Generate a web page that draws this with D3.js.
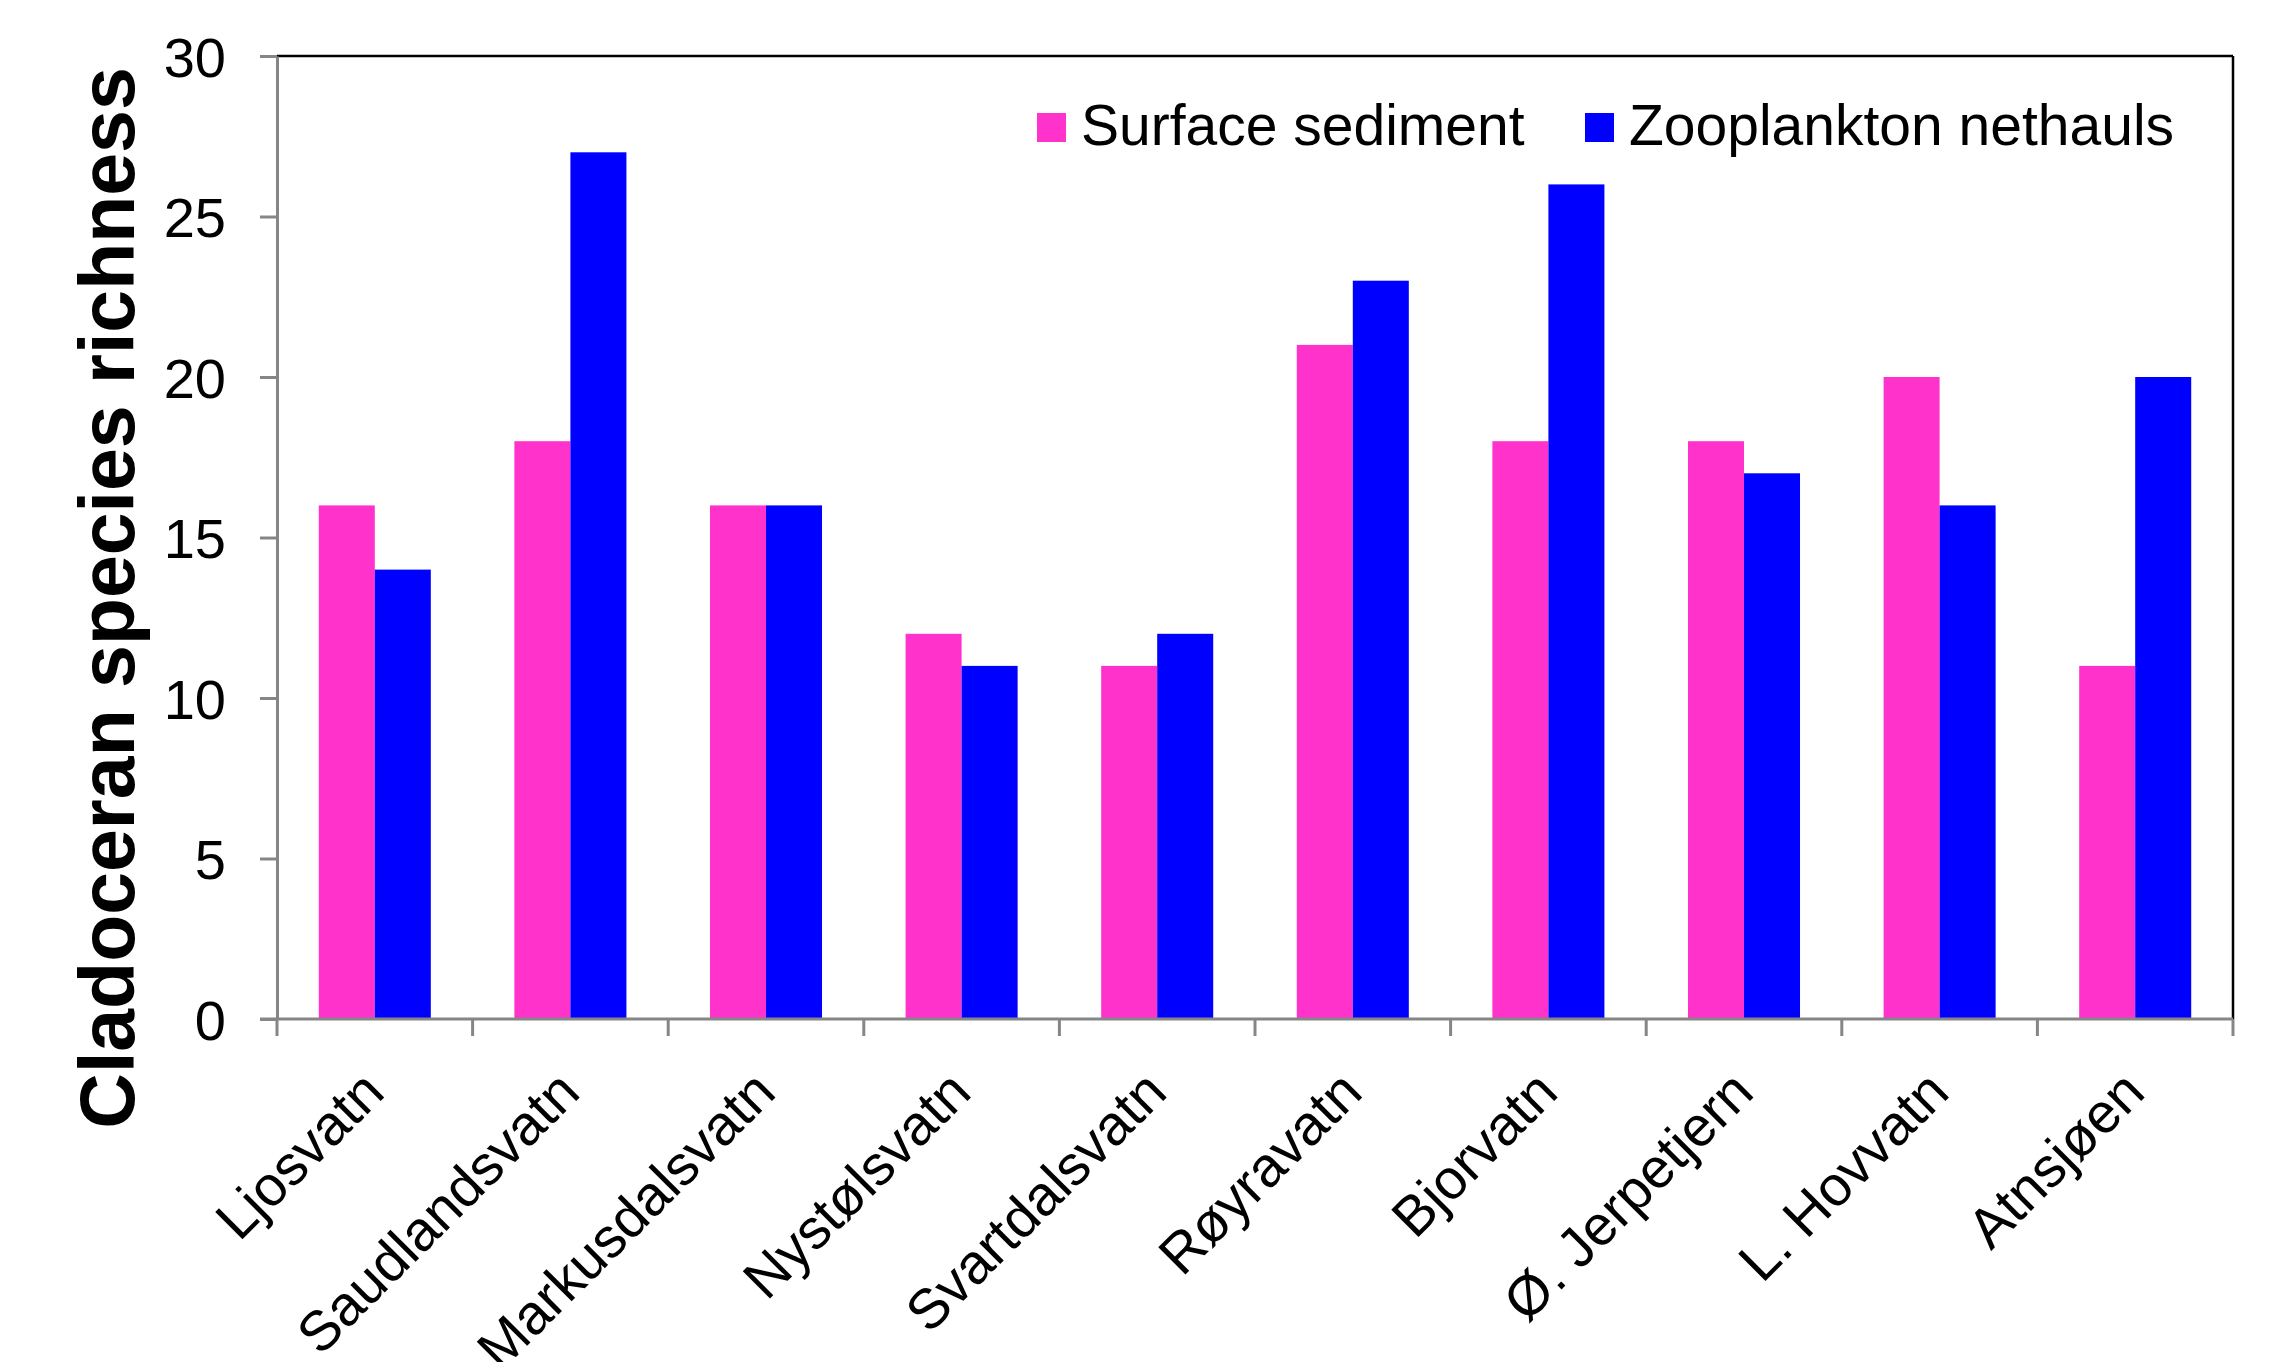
<!DOCTYPE html>
<html>
<head>
<meta charset="utf-8">
<script src="https://cdn.jsdelivr.net/npm/d3@7"></script>
<style>
  html, body { margin: 0; padding: 0; background: #ffffff; }
  svg { display: block; }
  text { font-family: "Liberation Sans", Arial, sans-serif; fill: #000; }
</style>
</head>
<body>
<svg id="chart" width="2278" height="1362"></svg>
<script>
// Lakes and species-richness counts per sampling method
const lakes = ["Ljosvatn", "Saudlandsvatn", "Markusdalsvatn", "Nystølsvatn", "Svartdalsvatn",
               "Røyravatn", "Bjorvatn", "Ø. Jerpetjern", "L. Hovvatn", "Atnsjøen"];
const surfaceSediment = [16, 18, 16, 12, 11, 21, 18, 18, 20, 11];
const zooplanktonNethauls = [14, 27, 16, 11, 12, 23, 26, 17, 16, 20];
const seriesNames = ["Surface sediment", "Zooplankton nethauls"];
const seriesColors = ["#ff33cc", "#0000ff"];
const yTicks = [0, 5, 10, 15, 20, 25, 30];

const svg = d3.select("#chart");
const plot = { left: 277, right: 2233, top: 56, bottom: 1019 };

const x = d3.scaleBand().domain(lakes).range([plot.left, plot.right]).paddingInner(0).paddingOuter(0);
const xInner = d3.scaleBand().domain(seriesNames).range([0, x.bandwidth()]).paddingInner(0).paddingOuter(0.746);
const y = d3.scaleLinear().domain([0, 30]).range([plot.bottom, plot.top]);

const rows = lakes.map((lake, i) => ({
  lake,
  values: [surfaceSediment[i], zooplanktonNethauls[i]]
}));

// Bars
const groups = svg.append("g").selectAll("g")
  .data(rows).join("g")
  .attr("transform", d => `translate(${x(d.lake)},0)`);
groups.selectAll("rect")
  .data(d => d.values.map((v, k) => ({ v, k })))
  .join("rect")
  .attr("x", d => xInner(seriesNames[d.k]))
  .attr("width", xInner.bandwidth())
  .attr("y", d => y(d.v))
  .attr("height", d => y(0) - y(d.v))
  .attr("fill", d => seriesColors[d.k]);

// Frame: top and right edges in black
svg.append("line").attr("x1", plot.left).attr("x2", plot.right)
  .attr("y1", plot.top).attr("y2", plot.top)
  .attr("stroke", "#000").attr("stroke-width", 2.5);
svg.append("line").attr("x1", plot.right).attr("x2", plot.right)
  .attr("y1", plot.top).attr("y2", plot.bottom)
  .attr("stroke", "#000").attr("stroke-width", 2.5);

// Y axis
const yAxis = svg.append("g")
  .attr("transform", `translate(${plot.left},0)`)
  .call(d3.axisLeft(y).tickValues(yTicks).tickSize(17).tickPadding(34).tickSizeOuter(0));
yAxis.select(".domain").attr("stroke", "#868686").attr("stroke-width", 3);
yAxis.selectAll(".tick line").attr("stroke", "#868686").attr("stroke-width", 3);
yAxis.selectAll(".tick text")
  .attr("font-size", 56).attr("font-family", "Liberation Sans, Arial, sans-serif")
  .attr("fill", "#000").attr("dy", "0.36em");

// X axis: ticks at category boundaries
const xAxisG = svg.append("g").attr("transform", `translate(0,${plot.bottom})`);
xAxisG.append("line").attr("x1", plot.left - 17).attr("x2", plot.right)
  .attr("stroke", "#868686").attr("stroke-width", 3);
const boundaries = lakes.map(l => x(l)).concat([x(lakes[lakes.length - 1]) + x.bandwidth()]);
xAxisG.selectAll("line.tick").data(boundaries).join("line")
  .attr("class", "tick")
  .attr("x1", d => d).attr("x2", d => d)
  .attr("y1", 0).attr("y2", 17)
  .attr("stroke", "#868686").attr("stroke-width", 3);

// Rotated category labels
svg.append("g").selectAll("text")
  .data(lakes).join("text")
  .attr("transform", d => `translate(${x(d) + x.bandwidth() / 2 + 12},${plot.bottom + 76}) rotate(-45)`)
  .attr("text-anchor", "end")
  .attr("font-size", 56)
  .text(d => d);

// Y axis title
svg.append("text")
  .attr("transform", `translate(134,${598}) rotate(-90)`)
  .attr("text-anchor", "middle")
  .attr("font-size", 77)
  .attr("font-weight", "bold")
  .text("Cladoceran species richness");

// Legend
const legendItems = [
  { name: seriesNames[0], color: seriesColors[0], x: 1037 },
  { name: seriesNames[1], color: seriesColors[1], x: 1585 }
];
const legend = svg.append("g").selectAll("g").data(legendItems).join("g")
  .attr("transform", d => `translate(${d.x},113)`);
legend.append("rect").attr("width", 29).attr("height", 29).attr("fill", d => d.color);
legend.append("text").attr("x", 44).attr("y", 32).attr("font-size", 57).text(d => d.name);
</script>
</body>
</html>
